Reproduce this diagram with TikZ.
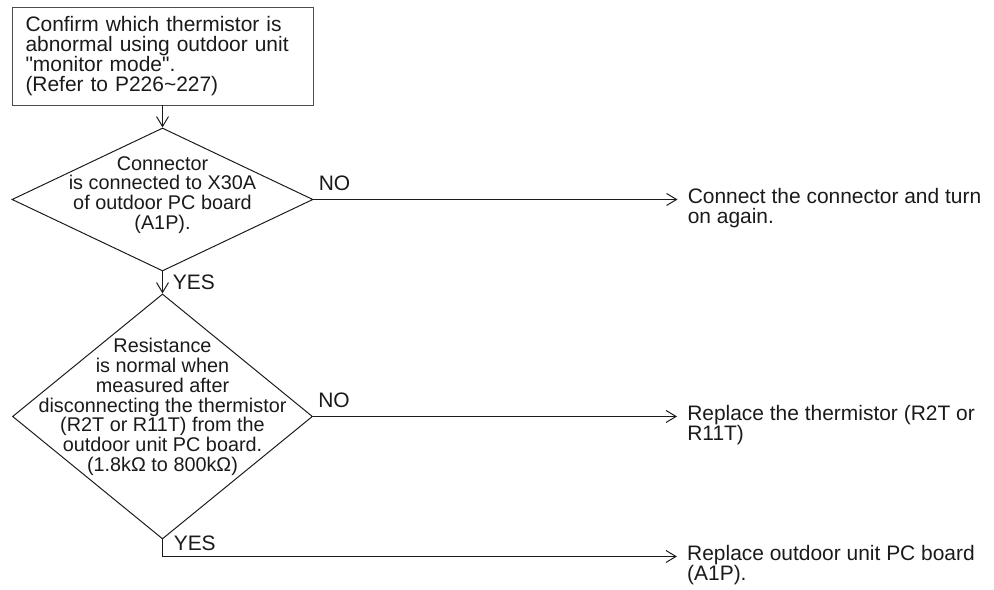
\documentclass[tikz,border=0pt]{standalone}
\usepackage{fontspec}
\setmainfont{Liberation Sans}
\usetikzlibrary{arrows.meta, positioning, shapes.geometric}
\definecolor{manInk}{HTML}{1A1A1A}
\definecolor{manFrame}{HTML}{4D4D4D}

\begin{document}
\begin{tikzpicture}[
    node distance=0.55cm,
    txt/.style={font=\fontsize{14.9pt}{14.2pt}\selectfont, text=manInk},
    dtxt/.style={font=\fontsize{14.1pt}{14.2pt}\selectfont, text=manInk, align=center},
    startbox/.style={txt, rectangle, draw=manFrame, line width=0.7pt,
                 minimum width=7.525cm, minimum height=2.45cm,
                 text width=6.85cm, align=left, inner sep=0pt},
    decision/.style={diamond, draw=manInk, line width=0.7pt, inner sep=0pt},
    result/.style={txt, align=left, anchor=west, inner sep=0.25cm},
    tag/.style={txt, inner sep=0pt},
    flow/.style={draw=manInk, line width=0.7pt,
                 -{Straight Barb[length=2.5mm, width=3mm]}},
  ]
    \useasboundingbox (0,0) rectangle (24.85,-14.75);

    \node[startbox] (chk) at (4.0625,-1.4) {Confirm which thermistor is\\abnormal using outdoor unit\\\textquotedbl monitor mode\textquotedbl.\\(Refer to P226\textasciitilde227)};
    \node[decision, below=of chk, minimum width=7.525cm, minimum height=3.575cm,
          label={[dtxt, yshift=0.11cm]center:{Connector\\is connected to X30A\\of outdoor PC board\\(A1P).}}] (d1) {};
    \node[decision, below=of d1, minimum width=7.5cm, minimum height=6.125cm,
          label={[dtxt, yshift=0.24cm]center:{Resistance\\is normal when\\measured after\\disconnecting the thermistor\\(R2T or R11T) from the\\outdoor unit PC board.\\(1.8kΩ to 800kΩ)}}] (d2) {};
    \coordinate[below=0.425cm of d2.south] (ycorner);

    \node[result] (r1) at ([xshift=9.1cm, yshift=-0.22cm]d1.east) {Connect the connector and turn\\on again.};
    \node[result] (r2) at ([xshift=9.1cm, yshift=-0.22cm]d2.east) {Replace the thermistor (R2T or\\R11T)};
    \node[result] (r3) at ([xshift=12.86cm, yshift=-0.22cm]ycorner) {Replace outdoor unit PC board\\(A1P).};

    \draw[flow] (chk) -- (d1);
    \draw[flow] (d1) -- node[tag, right, xshift=0.25cm] {YES} (d2);
    \draw[flow] (d1.east) -- node[tag, pos=0, anchor=south west, xshift=0.12cm, yshift=0.2cm] {NO} (d1.east -| r1.west);
    \draw[flow] (d2.east) -- node[tag, pos=0, anchor=south west, xshift=0.12cm, yshift=0.2cm] {NO} (d2.east -| r2.west);
    \draw[flow] (d2.south) -- (ycorner) -- node[tag, pos=0, anchor=south west, xshift=0.27cm, yshift=0.12cm] {YES} (ycorner -| r3.west);
  \end{tikzpicture}
\end{document}
